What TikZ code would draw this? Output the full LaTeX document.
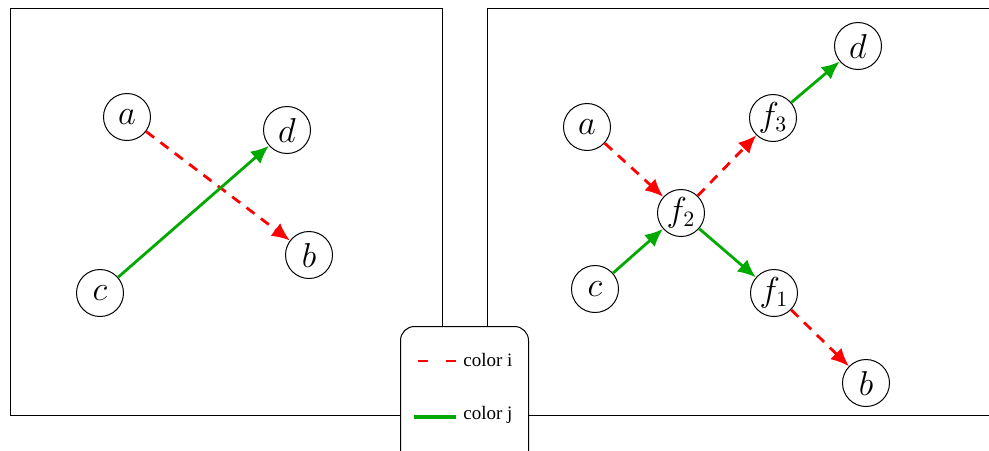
\documentclass[tikz,border=0pt]{standalone}
\usepackage{fontspec}
\newfontfamily\legfont{Liberation Serif}
\usetikzlibrary{arrows.meta}
\begin{document}
\begin{tikzpicture}[x=0.5pt,y=-0.5pt,
  vnode/.style={circle,draw,line width=0.5pt,minimum size=23.5pt,inner sep=0pt,fill=white,font=\fontsize{16}{18}\selectfont},
  frame/.style={draw,line width=0.5pt},
  redarr/.style={draw=red,line width=1.4pt,dash pattern=on 5pt off 4pt,-{Latex[length=9pt,width=8pt]}},
  greenarr/.style={draw={rgb,255:red,0;green,170;blue,0},line width=1.4pt,-{Latex[length=9pt,width=8pt]}},
  legtext/.style={font=\legfont\fontsize{9.5}{11}\selectfont,anchor=west,inner sep=0pt}
]
\useasboundingbox (0,0) rectangle (989,450);
% frames
\draw[frame] (10,415) -- (10,8) -- (442,8) -- (442,415) -- cycle;
\draw[frame] (989,8) -- (487,8) -- (487,415) -- (989,415);
% left graph
\node[vnode] (la) at (127,117) {$a$};
\node[vnode] (ld) at (287,130) {$d$};
\node[vnode] (lb) at (309,255) {$b$};
\node[vnode] (lc) at (100,293) {$c$};
\draw[redarr] (la) -- (lb);
\draw[greenarr] (lc) -- (ld);
% right graph
\node[vnode] (ra) at (587,127) {$a$};
\node[vnode] (f2) at (681,213) {$f_2$};
\node[vnode] (f3) at (773,118) {$f_3$};
\node[vnode] (rd) at (858,46) {$d$};
\node[vnode] (rc) at (595,289) {$c$};
\node[vnode] (f1) at (774,293) {$f_1$};
\node[vnode] (rb) at (866,383) {$b$};
\draw[redarr] (ra) -- (f2);
\draw[redarr] (f2) -- (f3);
\draw[greenarr] (f3) -- (rd);
\draw[greenarr] (rc) -- (f2);
\draw[greenarr] (f2) -- (f1);
\draw[redarr] (f1) -- (rb);
% legend
\node[draw,line width=0.5pt,rounded corners=7pt,fill=white,minimum width=64pt,minimum height=70pt,anchor=north west] (leg) at (400,326) {};
\coordinate (r1s) at (418,361);
\coordinate (r1e) at (456,361);
\coordinate (g1s) at (414,417);
\coordinate (g1e) at (456,417);
\draw[draw=red,line width=1.4pt,dash pattern=on 5pt off 9pt] (r1s) -- (r1e);
\draw[draw={rgb,255:red,0;green,170;blue,0},line width=1.6pt] (g1s) -- (g1e);
\node[legtext] (li) at (463,360) {color i};
\node[legtext] (lj) at (463,415) {color j};
\end{tikzpicture}
\end{document}
